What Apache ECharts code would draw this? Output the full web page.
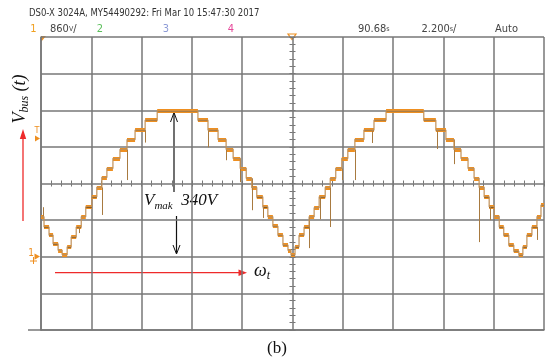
<!DOCTYPE html>
<html><head><meta charset="utf-8">
<script src="https://cdn.jsdelivr.net/npm/echarts/dist/echarts.min.js"></script>
<style>html,body{margin:0;padding:0;background:#fff}#c{width:545px;height:360px}</style>
</head><body><div id="c"></div>
<script>
// time in screen divisions (2.200 ms/div), voltage in V (ground = 0 V)
const stepEdges = [0,0.06,0.16,0.24,0.34,0.42,0.52,0.60,0.70,0.80,0.89,1.01,1.11,1.21,1.31,1.43,1.57,1.71,1.87,2.07,2.31,3.12,3.32,3.52,3.68,3.82,3.96,4.08,4.19,4.29,4.41,4.51,4.61,4.71,4.81,4.91,4.97,5.05,5.13,5.23,5.33,5.43,5.53,5.65,5.75,5.86,5.98,6.10,6.24,6.42,6.62,6.86,7.61,7.85,8.05,8.21,8.35,8.49,8.61,8.71,8.81,8.91,9.01,9.11,9.20,9.30,9.40,9.50,9.58,9.66,9.76,9.86,9.94,10];
const stepLevels = [93,69,50,30,15,5,23,46,69,93,116,139,161,184,205,228,249,272,294,317,338,317,294,272,249,228,205,182,161,139,116,93,71,50,27,15,4,23,50,69,93,114,139,161,182,205,228,249,272,294,317,338,317,294,272,249,228,205,182,161,139,116,93,69,50,27,13,4,23,50,69,93,120];
const spikeX = [0.04,0.76,1.21,1.71,2.07,3.33,3.69,3.96,4.19,4.42,5.34,5.55,5.75,5.98,6.24,6.58,7.87,8.21,8.72,8.93,9.86];
const spikeV = [115,55,97,178,265,254,224,173,108,90,20,87,69,178,178,264,250,215,34,85,39];
const xTicks = [0,1,2,3,4,5,6,7,8,9,10];      // divisions
const yTicks = [-170,-85,0,85,170,255,340,425,510]; // volts (85 V/div)

function levelAt(x){
  for (let i=0;i<stepLevels.length;i++){ if (x>=stepEdges[i] && x<=stepEdges[i+1]) return stepLevels[i]; }
  return stepLevels[stepLevels.length-1];
}
const tracePts = [];
const bands = [];
for (let i=0;i<stepLevels.length;i++){
  tracePts.push([stepEdges[i], stepLevels[i]], [stepEdges[i+1], stepLevels[i]]);
  bands.push({coords: [[stepEdges[i], stepLevels[i]], [stepEdges[i+1], stepLevels[i]]]});
}
const spikes = spikeX.map((x,i)=>({coords: [[x, levelAt(x)], [x, spikeV[i]]]}));

const gridColor = '#777';
const orange = '#ee8f20';
const chart = echarts.init(document.getElementById('c'), null, {renderer:'canvas'});
const serif = '"Liberation Serif", "DejaVu Serif", serif';
const narrow = '"DejaVu Sans Condensed", "Liberation Sans", sans-serif';

const subRich = (big, small) => ({
  v:{fontSize:big, fontStyle:'italic', fontFamily:serif, fill:'#111', lineHeight:20, verticalAlign:'top'},
  s:{fontSize:small, fontStyle:'italic', fontFamily:serif, fill:'#111', lineHeight:10, verticalAlign:'bottom'}
});

chart.setOption({
  animation: false,
  backgroundColor: '#fff',
  grid: {left: 41, top: 37, width: 503, height: 293, containLabel: false},
  xAxis: [
    {type:'value', min:xTicks[0], max:xTicks[xTicks.length-1], interval:1, position:'bottom',
     axisLine:{show:true, onZero:false, lineStyle:{color:gridColor, width:1.5}},
     axisTick:{show:false}, axisLabel:{show:false},
     splitLine:{show:true, lineStyle:{color:gridColor, width:1.5}}},
    {type:'value', min:0, max:10, interval:0.2, position:'bottom',
     axisLine:{show:false, onZero:true, onZeroAxisIndex:1},
     axisTick:{show:true, length:3, lineStyle:{color:gridColor, width:1}}, axisLabel:{show:false}, splitLine:{show:false}},
    {type:'value', min:0, max:10, interval:0.2, position:'top',
     axisLine:{show:false, onZero:true, onZeroAxisIndex:1},
     axisTick:{show:true, length:3, lineStyle:{color:gridColor, width:1}}, axisLabel:{show:false}, splitLine:{show:false}},
    {type:'value', min:-5, max:5, show:false, position:'top', axisLine:{onZero:false}}
  ],
  yAxis: [
    {type:'value', min:yTicks[0], max:yTicks[yTicks.length-1], interval:85, position:'left',
     axisLine:{show:true, onZero:false, lineStyle:{color:gridColor, width:1.5}},
     axisTick:{show:false}, axisLabel:{show:false},
     splitLine:{show:true, lineStyle:{color:gridColor, width:1.5}}},
    {type:'value', min:-4, max:4, show:false, position:'right', axisLine:{onZero:false}},
    {type:'value', min:-170, max:510, interval:17, position:'left',
     axisLine:{show:false, onZero:true, onZeroAxisIndex:3},
     axisTick:{show:true, length:3, lineStyle:{color:gridColor, width:1}}, axisLabel:{show:false}, splitLine:{show:false}},
    {type:'value', min:-170, max:510, interval:17, position:'right',
     axisLine:{show:false, onZero:true, onZeroAxisIndex:3},
     axisTick:{show:true, length:3, lineStyle:{color:gridColor, width:1}}, axisLabel:{show:false}, splitLine:{show:false}}
  ],
  series: [
    {type:'line', data: tracePts, symbol:'none', silent:true, clip:true,
     lineStyle:{color:'#c09058', width:1.2}},
    {type:'lines', coordinateSystem:'cartesian2d', data: bands, silent:true,
     lineStyle:{color: orange, width:4, opacity:1}},
    {type:'lines', coordinateSystem:'cartesian2d', data: bands, silent:true,
     lineStyle:{color:'#3f2a0c', width:1, opacity:0.7}},
    {type:'lines', coordinateSystem:'cartesian2d', data: spikes, silent:true,
     lineStyle:{color:'#a87a40', width:1, opacity:1}}
  ],
  graphic: [
    // header
    {type:'text', x:29, y:13.5, scaleX:0.86, style:{text:'DS0-X 3024A, MY54490292: Fri Mar 10 15:47:30 2017', fill:'#333', font:'11px '+narrow, textVerticalAlign:'middle'}},
    {type:'text', x:33.5, y:29, style:{text:'1', fill:'#f0a020', font:'11px '+narrow, textAlign:'center', textVerticalAlign:'middle'}},
    {type:'text', x:50, y:29, style:{text:'860{u|V}/', fill:'#444', font:'11px '+narrow, textVerticalAlign:'middle', rich:{u:{fontSize:7, fill:'#444', fontFamily:narrow}}}},
    {type:'text', x:100, y:29, style:{text:'2', fill:'#5cbf5c', font:'11px '+narrow, textAlign:'center', textVerticalAlign:'middle'}},
    {type:'text', x:166, y:29, style:{text:'3', fill:'#8d9bd6', font:'11px '+narrow, textAlign:'center', textVerticalAlign:'middle'}},
    {type:'text', x:231, y:29, style:{text:'4', fill:'#e6489a', font:'11px '+narrow, textAlign:'center', textVerticalAlign:'middle'}},
    {type:'text', x:358, y:29, style:{text:'90.68{u|s}', fill:'#444', font:'11px '+narrow, textVerticalAlign:'middle', rich:{u:{fontSize:7, fill:'#444', fontFamily:narrow}}}},
    {type:'text', x:421.5, y:29, style:{text:'2.200{u|s}/', fill:'#444', font:'11px '+narrow, textVerticalAlign:'middle', rich:{u:{fontSize:7, fill:'#444', fontFamily:narrow}}}},
    {type:'text', x:495, y:29, style:{text:'Auto', fill:'#444', font:'11px '+narrow, textVerticalAlign:'middle'}},
    // scope markers
    {type:'polygon', shape:{points:[[41,36],[46,36],[41,42]]}, style:{fill:orange}},
    {type:'polygon', shape:{points:[[288,34],[296,34],[292,39.5]]}, style:{fill:'none', stroke:orange, lineWidth:1.2}},
    {type:'text', x:37, y:131, style:{text:'T', fill:orange, font:'9px '+narrow, textAlign:'center', textVerticalAlign:'middle'}},
    {type:'polygon', shape:{points:[[35,135.5],[40,138.5],[35,141.5]]}, style:{fill:orange}},
    {type:'text', x:31, y:253, style:{text:'1', fill:orange, font:'10px '+narrow, textAlign:'center', textVerticalAlign:'middle'}},
    {type:'polygon', shape:{points:[[34.5,253.5],[40,256.6],[34.5,259.7]]}, style:{fill:orange}},
    {type:'polyline', shape:{points:[[30,261],[37,261]]}, style:{stroke:orange, lineWidth:1}},
    {type:'polyline', shape:{points:[[33.5,257],[33.5,264]]}, style:{stroke:orange, lineWidth:1}},
    // bottom rule extension
    {type:'line', shape:{x1:28, y1:330, x2:41, y2:330}, style:{stroke:gridColor, lineWidth:1.5}},
    // V_bus(t) label
    {type:'text', x:21, y:99, rotation:Math.PI/2, style:{text:'{v|V}{s|bus}{v| (t)}', textAlign:'center', textVerticalAlign:'middle', rich: subRich(18, 12)}},
    // red vertical arrow
    {type:'line', shape:{x1:23, y1:221, x2:23, y2:137}, style:{stroke:'#ee2a2a', lineWidth:1.3}},
    {type:'polygon', shape:{points:[[23,129],[19.8,139],[26.2,139]]}, style:{fill:'#ee2a2a'}},
    // red horizontal arrow
    {type:'line', shape:{x1:55, y1:272.7, x2:240, y2:272.7}, style:{stroke:'#ee2a2a', lineWidth:1.3}},
    {type:'polygon', shape:{points:[[247,272.7],[238.5,269.4],[238.5,276]]}, style:{fill:'#ee2a2a'}},
    {type:'text', x:254, y:272, style:{text:'{v|ω}{s|t}', textVerticalAlign:'middle', rich: subRich(18, 12)}},
    // V_mak arrows
    {type:'line', shape:{x1:174, y1:113, x2:174, y2:192}, style:{stroke:'#111', lineWidth:1.2}},
    {type:'polyline', shape:{points:[[170.5,122],[174,112.5],[177.5,122]]}, style:{stroke:'#111', lineWidth:1, fill:'none'}},
    {type:'line', shape:{x1:176.5, y1:216, x2:176.5, y2:253}, style:{stroke:'#111', lineWidth:1.2}},
    {type:'polyline', shape:{points:[[173,245],[176.5,254],[180,245]]}, style:{stroke:'#111', lineWidth:1, fill:'none'}},
    {type:'text', x:144, y:202, style:{text:'{v|V}{s|mak}{v|  340V}', textVerticalAlign:'middle', rich: subRich(17, 11)}},
    // caption
    {type:'text', x:277, y:349, style:{text:'(b)', fill:'#111', font:'17px '+serif, textAlign:'center', textVerticalAlign:'middle'}}
  ]
});
</script></body></html>
